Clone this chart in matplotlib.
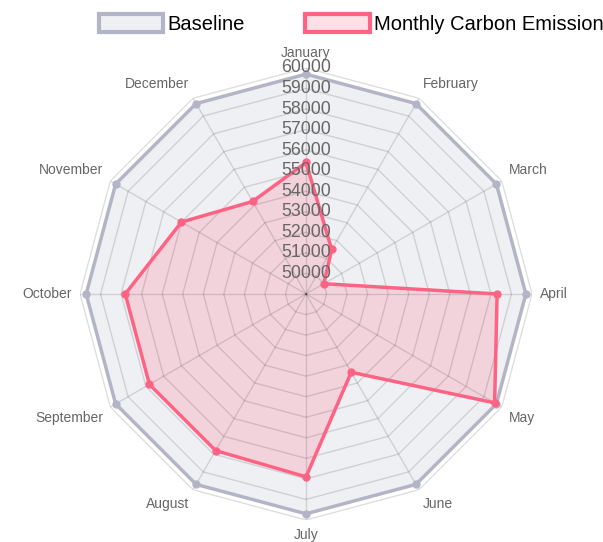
import numpy as np
import matplotlib.pyplot as plt
from matplotlib.patches import Patch

plt.rcParams['font.family'] = ['Liberation Sans', 'DejaVu Sans']

months = ['January', 'February', 'March', 'April', 'May', 'June',
          'July', 'August', 'September', 'October', 'November', 'December']
baseline = [59700] * 12
emission = [55400, 51500, 50000, 58300, 59600, 53400,
            57900, 57800, 57800, 57800, 56000, 54200]
ticks = list(range(50000, 60001, 1000))
r_min, r_max = 49000, 60000

base_line = (179/255, 181/255, 198/255)
base_fill = (179/255, 181/255, 198/255, 0.2)
pink_line = (255/255, 99/255, 132/255)
pink_fill = (255/255, 99/255, 132/255, 0.2)

angles = np.linspace(0, 2 * np.pi, len(months), endpoint=False)
closed = np.append(angles, angles[0])

fig = plt.figure(figsize=(6.03, 5.42), dpi=100)
ax = fig.add_axes([0.1327, 0.0406, 0.7496, 0.834], projection='polar')
ax.set_theta_offset(np.pi / 2)
ax.set_theta_direction(-1)
ax.set_ylim(r_min, r_max)
ax.grid(False)
ax.set_xticks([])
ax.set_yticks([])
ax.spines['polar'].set_visible(False)
ax.patch.set_alpha(0)

# polygon grid + angle lines
grid_kw = dict(color='black', alpha=0.13, lw=1, zorder=1)
for v in ticks:
    ax.plot(closed, [v] * len(closed), **grid_kw)
for a in angles:
    ax.plot([a, a], [r_min, r_max], **grid_kw)

# datasets
for vals, lc, fc in [(baseline, base_line, base_fill), (emission, pink_line, pink_fill)]:
    v = np.append(vals, vals[0])
    ax.fill(closed, v, color=fc, lw=0, zorder=0.5)
    ax.plot(closed, v, color=lc, lw=2.5, zorder=3)
    ax.plot(angles, vals, 'o', ms=5, color=lc, zorder=4)

# radial tick labels along January spoke
for v in ticks:
    ax.text(0, v, str(v), ha='center', va='center', fontsize=12.8,
            color='#666666', zorder=5)

# month labels
for a, m in zip(angles, months):
    s, c = np.sin(a), np.cos(a)
    ha = 'left' if s > 0.1 else ('right' if s < -0.1 else 'center')
    va = 'bottom' if c > 0.1 else ('top' if c < -0.1 else 'center')
    ax.annotate(m, xy=(a, r_max), xytext=(s * 6, c * 6), textcoords='offset points',
                ha=ha, va=va, fontsize=10, color='#666666', annotation_clip=False)

handles = [Patch(facecolor=base_fill, edgecolor=base_line, lw=3, label='Baseline'),
           Patch(facecolor=pink_fill, edgecolor=pink_line, lw=3, label='Monthly Carbon Emission')]
fig.legend(handles=handles, loc='center', bbox_to_anchor=(351 / 603, 1 - 24 / 542),
           ncol=2, frameon=False, fontsize=14.5, handlelength=3.2, handleheight=1.0,
           handletextpad=0.2, columnspacing=3.0)

fig.savefig('out.png', dpi=100)
